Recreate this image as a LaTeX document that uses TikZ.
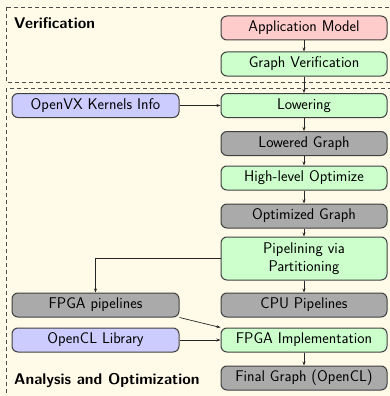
\documentclass[tikz,border=0pt]{standalone}
\usetikzlibrary{arrows.meta}
\definecolor{bgc}{HTML}{FFFBE8}
\definecolor{redc}{HTML}{FFCCCC}
\definecolor{greenc}{HTML}{CCFFCC}
\definecolor{bluec}{HTML}{CCCCFF}
\definecolor{grayc}{HTML}{AAAAAA}
\definecolor{edgec}{HTML}{404040}
\tikzset{
  box/.style={draw=edgec, line width=1pt, rounded corners=6pt, minimum width=166pt, minimum height=24pt, inner sep=0pt, align=center, font=\fontsize{15.5}{18}\selectfont\sffamily},
  redbox/.style={box, fill=redc},
  greenbox/.style={box, fill=greenc},
  bluebox/.style={box, fill=bluec},
  graybox/.style={box, fill=grayc},
  conn/.style={draw=black!85, line width=0.7pt, -{Stealth[length=4pt,width=3pt]}},
  region/.style={draw=black!70, dashed, dash pattern=on 4pt off 3pt, line width=0.8pt},
  title/.style={font=\fontsize{15.5}{18}\selectfont\sffamily\bfseries, anchor=west, inner sep=0pt}
}
\begin{document}
\begin{tikzpicture}[x=1pt,y=-1pt]
\useasboundingbox (0,0) rectangle (390,396);
\fill[bgc] (0,0) rectangle (390,396);
\begin{scope}
\clip (0,0) rectangle (390,396);
\draw[region] (6,7) rectangle (420,82);
\draw[region] (6,88) rectangle (420,420);
\end{scope}
\node[title] (vlab) at (14,23) {Verification};
\node[title] (alab) at (14,381) {Analysis and Optimization};

\node[redbox] (app) at (304,28) {Application Model};
\node[greenbox] (gver) at (304,64) {Graph Verification};
\node[greenbox] (low) at (304,105.5) {Lowering};
\node[graybox] (lowg) at (304,143.5) {Lowered Graph};
\node[greenbox] (hlo) at (304,178) {High-level Optimize};
\node[graybox] (optg) at (304,216) {Optimized Graph};
\node[greenbox, minimum height=43pt] (pip) at (304,258.5) {Pipelining via\\Partitioning};
\node[graybox] (cpu) at (304,305) {CPU Pipelines};
\node[greenbox] (fimpl) at (304,340) {FPGA Implementation};
\node[graybox] (final) at (304,378) {Final Graph (OpenCL)};

\node[bluebox, minimum width=167pt] (ovx) at (95.5,105.5) {OpenVX Kernels Info};
\node[graybox, minimum width=167pt] (fpip) at (95.5,305) {FPGA pipelines};
\node[bluebox, minimum width=167pt] (ocl) at (95.5,340) {OpenCL Library};

\draw[conn] (app) -- (gver);
\draw[conn] (gver) -- (low);
\draw[conn] (low) -- (lowg);
\draw[conn] (lowg) -- (hlo);
\draw[conn] (hlo) -- (optg);
\draw[conn] (optg) -- (pip);
\draw[conn] (pip) -- (cpu);
\draw[conn] (fimpl) -- (final);
\draw[conn] (ovx) -- (low);
\draw[conn] (ocl) -- (fimpl);
\draw[conn] (pip.west) -| (fpip.north);
\draw[conn] (fpip.south east) -- (fimpl.north west);
\end{tikzpicture}
\end{document}
